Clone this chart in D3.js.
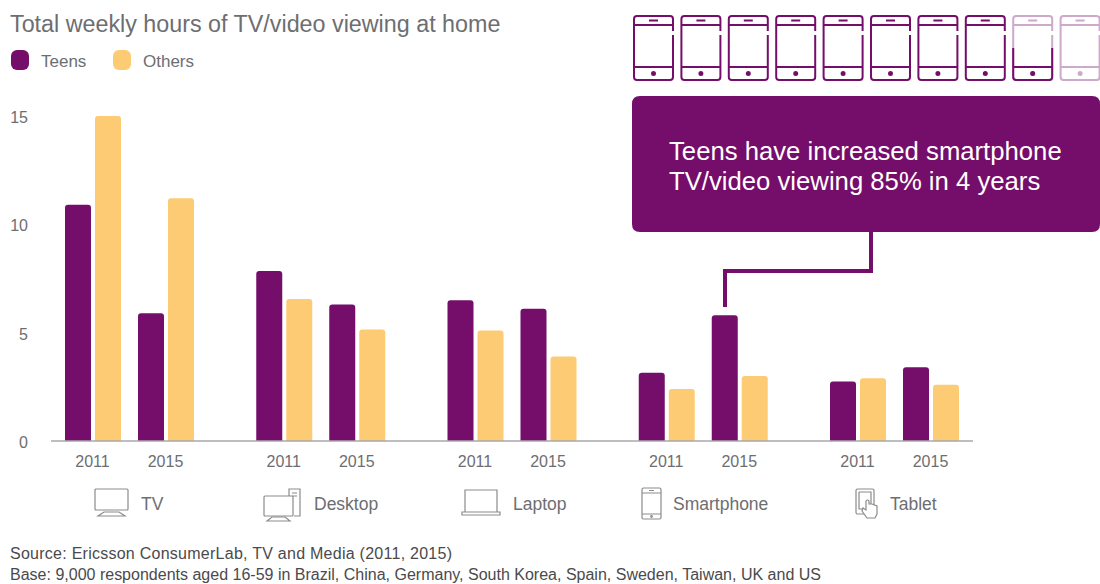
<!DOCTYPE html>
<html>
<head>
<meta charset="utf-8">
<title>TV/video viewing at home</title>
<script src="https://cdn.jsdelivr.net/npm/d3@7"></script>
<style>
  html, body { margin: 0; padding: 0; background: #fff; }
  svg { display: block; }
  text { font-family: "Liberation Sans", Arial, sans-serif; }
</style>
</head>
<body>
<svg id="chart" width="1100" height="584"></svg>
<script>
"use strict";

var devices = ['TV', 'Desktop', 'Laptop', 'Smartphone', 'Tablet'],
    years = ['2011', '2015'],
    seriesNames = ['Teens', 'Others'],
    teens2011 = [10.9, 7.85, 6.5, 3.15, 2.75],
    teens2015 = [5.9, 6.3, 6.1, 5.8, 3.4],
    others2011 = [15, 6.55, 5.1, 2.4, 2.9],
    others2015 = [11.2, 5.15, 3.9, 3.0, 2.6],
    yTicks = [0, 5, 10, 15],
    phonesFilled = 8.5,
    phonesTotal = 10,
    calloutLines = ['Teens have increased smartphone', 'TV/video viewing 85% in 4 years'],
    sourceLines = [
        'Source: Ericsson ConsumerLab, TV and Media (2011, 2015)',
        'Base: 9,000 respondents aged 16-59 in Brazil, China, Germany, South Korea, Spain, Sweden, Taiwan, UK and US'
    ];

var purple = '#750e6a',
    yellow = '#fdcb73',
    grey = '#6d6e71',
    iconGrey = '#8a8b8d';

var svg = d3.select('#chart');

var y = d3.scaleLinear().domain([0, 15]).range([441, 116]),
    x0 = d3.scaleBand().domain(devices).range([65, 1021.25]),
    x1 = d3.scaleBand().domain(years).range([0, 146]),
    x2 = d3.scaleBand().domain(seriesNames).range([0, 56]).paddingInner(4 / 30),
    color = d3.scaleOrdinal().domain(seriesNames).range([purple, yellow]);

var rows = [];
devices.forEach(function (device, i) {
    rows.push({device: device, year: '2011', series: 'Teens', value: teens2011[i]});
    rows.push({device: device, year: '2011', series: 'Others', value: others2011[i]});
    rows.push({device: device, year: '2015', series: 'Teens', value: teens2015[i]});
    rows.push({device: device, year: '2015', series: 'Others', value: others2015[i]});
});

// bar with the top corners rounded, bottom sits flat on the axis
function barPath(d) {
    var left = x0(d.device) + x1(d.year) + x2(d.series),
        right = left + x2.bandwidth(),
        top = y(d.value),
        p = d3.path();
    p.moveTo(left, y(0));
    p.lineTo(left, top + 3);
    p.quadraticCurveTo(left, top, left + 3, top);
    p.lineTo(right - 3, top);
    p.quadraticCurveTo(right, top, right, top + 3);
    p.lineTo(right, y(0));
    p.closePath();
    return p.toString();
}

// title and legend
svg.append('text')
    .attr('x', 10).attr('y', 32)
    .attr('font-size', 23.3).attr('fill', grey)
    .style('-webkit-text-stroke', '0.4px ' + grey)
    .text('Total weekly hours of TV/video viewing at home');

var legendX = d3.scaleOrdinal().domain(seriesNames).range([11, 113]);
var legend = svg.selectAll('.legend').data(seriesNames).enter().append('g')
    .attr('class', 'legend')
    .attr('transform', function (d) { return 'translate(' + legendX(d) + ',50)'; });
legend.append('rect')
    .attr('width', 18).attr('height', 20).attr('rx', 6)
    .attr('fill', function (d) { return color(d); });
legend.append('text')
    .attr('x', 30).attr('y', 17)
    .attr('font-size', 17).attr('fill', grey)
    .text(function (d) { return d; });

// y axis, labels only
var yAxis = svg.append('g')
    .attr('transform', 'translate(28,1.5)')
    .call(d3.axisLeft(y).tickValues(yTicks).tickSize(0).tickPadding(0));
yAxis.select('.domain').remove();
yAxis.selectAll('text')
    .attr('font-size', 16).attr('fill', grey)
    .style('font-family', '"Liberation Sans", Arial, sans-serif');

// bars
svg.selectAll('.bar').data(rows).enter().append('path')
    .attr('class', 'bar')
    .attr('d', barPath)
    .attr('fill', function (d) { return color(d.series); });

svg.append('line')
    .attr('x1', 51).attr('x2', 973)
    .attr('y1', y(0)).attr('y2', y(0))
    .attr('stroke', '#a7a8aa').attr('stroke-width', 1.5);

// year labels under every pair
devices.forEach(function (device) {
    svg.selectAll(null).data(years).enter().append('text')
        .attr('x', function (d) { return x0(device) + x1(d) + 27.500; })
        .attr('y', 467)
        .attr('text-anchor', 'middle')
        .attr('font-size', 16).attr('fill', grey)
        .text(function (d) { return d; });
});

// device icons, drawn at a local origin and moved into place
var icons = {
    TV: function (g) {
        g.append('rect').attr('x', 0).attr('y', 0).attr('width', 33).attr('height', 21).attr('rx', 1);
        g.append('path').attr('d', 'M3 27 L30 27 L24 23 L9 23 Z');
    },
    Desktop: function (g) {
        g.append('rect').attr('x', 0).attr('y', 6).attr('width', 29).attr('height', 20).attr('rx', 1);
        g.append('path').attr('d', 'M3 31 L26 31 L21 27 L8 27 Z');
        g.append('path').attr('d', 'M25 6 L25 -1 L36 -1 L36 26 L30 26');
        g.append('path').attr('d', 'M28 3 L33 3 M28 6 L33 6');
    },
    Laptop: function (g) {
        g.append('path').attr('d', 'M3 22 L3 0 L35 0 L35 22');
        g.append('path').attr('d', 'M0 22 L38 22 L38 25 L0 25 Z');
    },
    Smartphone: function (g) {
        g.append('rect').attr('width', 19).attr('height', 31).attr('rx', 1.5);
        g.append('path').attr('d', 'M0 5 L19 5 M0 26 L19 26 M7 2.5 L12 2.5');
        g.append('circle').attr('cx', 9.5).attr('cy', 28.5).attr('r', 0.8);
    },
    Tablet: function (g) {
        g.append('rect').attr('width', 18).attr('height', 25).attr('rx', 1.5);
        g.append('path').attr('d', 'M3 3 L15 3 L15 20 M3 3 L3 20 L8 20');
        g.append('path')
            .attr('fill', '#fff')
            .attr('d', 'M10 12 L10 21 L7 19 L6 22 L11 29 L19 29 L21 25 L21 17 L16 15 L13 15 L13 12 Q11.500 10 10 12 Z');
    }
};
var iconX = d3.scaleOrdinal().domain(devices).range([95, 264, 462, 642, 856]),
    iconY = d3.scaleOrdinal().domain(devices).range([489, 490, 490, 488, 489]),
    labelX = d3.scaleOrdinal().domain(devices).range([141, 314, 513, 673, 890]);

devices.forEach(function (device) {
    var g = svg.append('g')
        .attr('transform', 'translate(' + iconX(device) + ',' + iconY(device) + ')')
        .attr('fill', 'none').attr('stroke', iconGrey).attr('stroke-width', 1.2);
    icons[device](g);
    svg.append('text')
        .attr('x', labelX(device)).attr('y', 510)
        .attr('font-size', 17.5).attr('fill', grey)
        .text(device);
});

// row of phones above the callout, lower part of a phone is dark when partly filled
var phoneX = d3.scaleBand().domain(d3.range(phonesTotal)).range([634, 634 + 47.4 * phonesTotal]);

function drawPhone(g) {
    g.append('path').attr('d', 'M39 15 L39 3 Q39 0 36 0 L3 0 Q0 0 0 3 L0 61 Q0 64 3 64 L36 64 Q39 64 39 61 L39 19');
    g.append('path').attr('d', 'M0 9 L39 9 M0 51 L39 51 M15 4.500 L24 4.500');
    g.append('circle').attr('cx', 19.500).attr('cy', 57.500).attr('r', 1.5).attr('fill', purple);
}

d3.range(phonesTotal).forEach(function (i) {
    var fill = Math.max(0, Math.min(1, phonesFilled - i)),
        g = svg.append('g')
            .attr('transform', 'translate(' + phoneX(i) + ',16)')
            .attr('fill', 'none').attr('stroke', purple).attr('stroke-width', 2);
    if (fill < 1) {
        drawPhone(g.append('g').attr('opacity', 0.35));
    }
    if (fill > 0) {
        var clipId = 'phone-clip-' + i;
        g.append('clipPath').attr('id', clipId).append('rect')
            .attr('x', -2).attr('width', 43)
            .attr('y', 66 - 68 * fill).attr('height', 68 * fill);
        drawPhone(g.append('g').attr('clip-path', 'url(#' + clipId + ')'));
    }
});

// callout
svg.append('path')
    .attr('d', 'M871 232 L871 271 L725 271 L725 307')
    .attr('fill', 'none').attr('stroke', purple).attr('stroke-width', 4);
svg.append('path')
    .attr('d', 'M640 96 L1092 96 Q1100 96 1100 104 L1100 224 Q1100 232 1092 232 L640 232 Q632 232 632 224 L632 104 Q632 96 640 96 Z')
    .attr('fill', purple);
svg.selectAll('.callout').data(calloutLines).enter().append('text')
    .attr('class', 'callout')
    .attr('x', 669)
    .attr('y', function (d, i) { return 160 + i * 30; })
    .attr('font-size', 25.7).attr('fill', '#fff')
    .style('-webkit-text-stroke', '0.6px #fff')
    .text(function (d) { return d; });

// footnotes, each line stretched to the width it has in the original
var sourceWidth = d3.scaleOrdinal().domain(sourceLines).range([442, 811]);
svg.selectAll('.source').data(sourceLines).enter().append('text')
    .attr('class', 'source')
    .attr('x', 10)
    .attr('y', function (d, i) { return 559 + i * 21; })
    .attr('font-size', 16).attr('fill', '#4a4a4c')
    .attr('textLength', function (d) { return sourceWidth(d); })
    .attr('lengthAdjust', 'spacing')
    .text(function (d) { return d; });
</script>
</body>
</html>
